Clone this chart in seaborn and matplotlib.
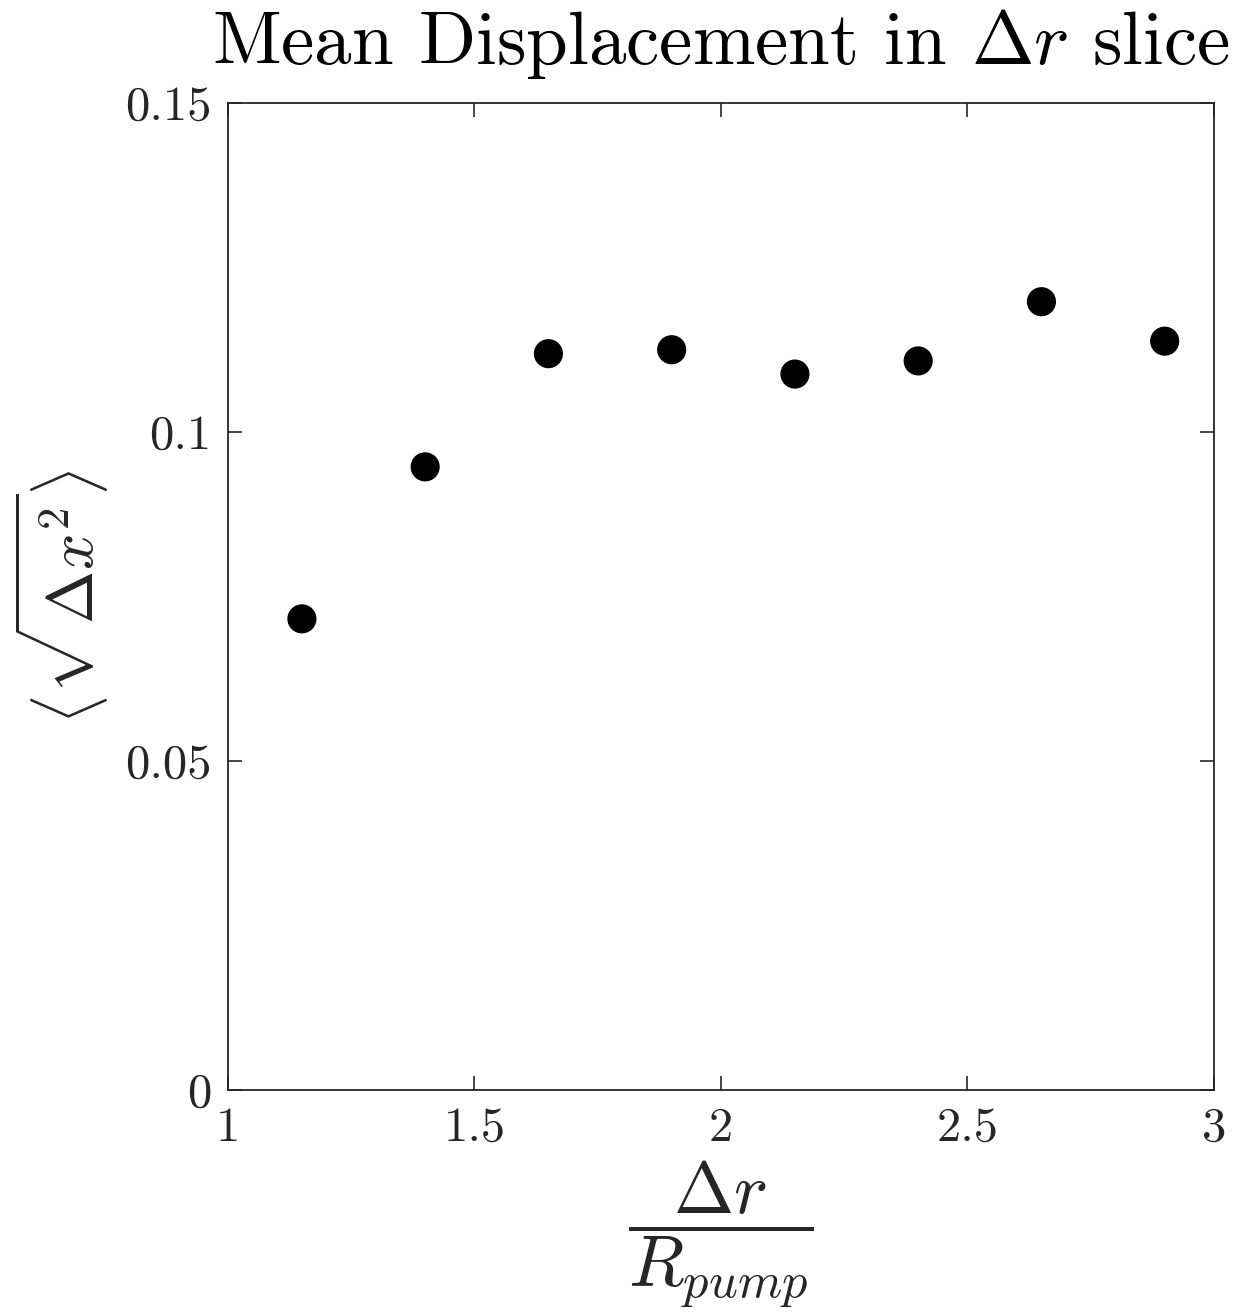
import matplotlib
matplotlib.use("Agg")
import matplotlib.pyplot as plt
import seaborn as sns
import pandas as pd

x_vals = [1.15, 1.40, 1.65, 1.90, 2.15, 2.40, 2.65, 2.90]
y_vals = [0.0716, 0.0947, 0.1119, 0.1125, 0.1088, 0.1108, 0.1198, 0.1138]
x_ticks = [1, 1.5, 2, 2.5, 3]
x_tick_labels = ["1", "1.5", "2", "2.5", "3"]
y_ticks = [0, 0.05, 0.1, 0.15]
y_tick_labels = ["0", "0.05", "0.1", "0.15"]

sns.set_theme(style="ticks")
plt.rcParams["font.family"] = ["cmr10", "DejaVu Serif"]
plt.rcParams["mathtext.fontset"] = "cm"
plt.rcParams["axes.formatter.use_mathtext"] = True

ink = "#262626"
df = pd.DataFrame({"x": x_vals, "y": y_vals})

fig = plt.figure(figsize=(12.45, 13.15), dpi=100)
ax = fig.add_axes([0.1831, 0.1711, 0.9751 - 0.1831, 0.9217 - 0.1711])
sns.scatterplot(data=df, x="x", y="y", ax=ax, s=440, color="black",
                edgecolor="none", linewidth=0)

ax.set_xlim(1, 3)
ax.set_ylim(0, 0.15)
ax.set_xticks(x_ticks)
ax.set_xticklabels(x_tick_labels)
ax.set_yticks(y_ticks)
ax.set_yticklabels(y_tick_labels)
ax.tick_params(direction="in", length=10, width=1.2, colors=ink,
               labelsize=35, top=True, right=True, pad=12)
for sp in ax.spines.values():
    sp.set_visible(True)
    sp.set_color(ink)
    sp.set_linewidth(1.3)

ax.set_xlabel(r"$\dfrac{\Delta r}{R_{pump}}$", fontsize=52, color=ink, labelpad=6)
ax.set_ylabel(r"$\langle\sqrt{\Delta x^2}\rangle$", fontsize=46, color=ink, labelpad=10)
ax.set_title(r"Mean Displacement in $\Delta r$ slice", fontsize=54, color="black", pad=28)

fig.savefig("out.png", dpi=100)
